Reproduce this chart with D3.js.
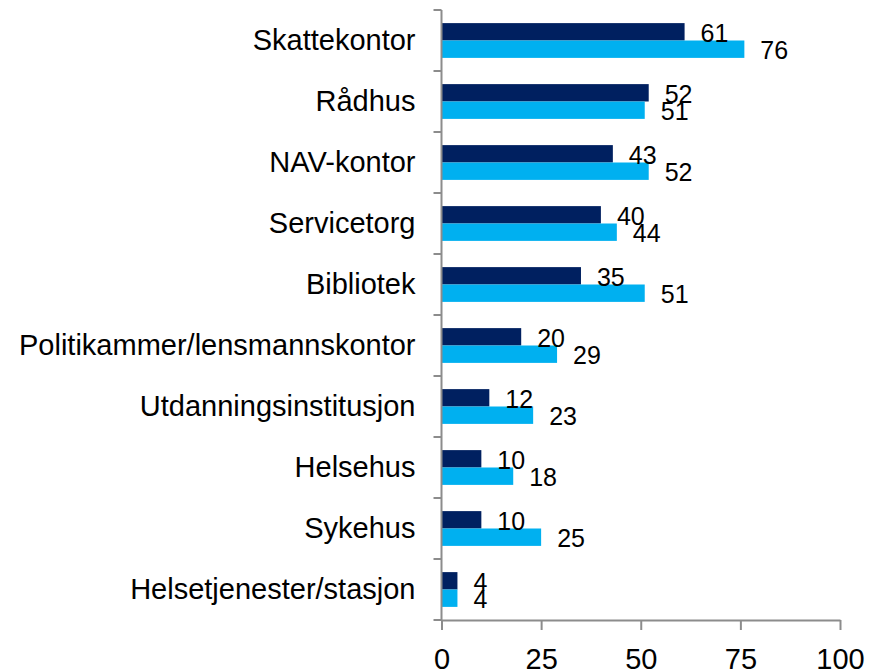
<!DOCTYPE html>
<html>
<head>
<meta charset="utf-8">
<script src="https://cdn.jsdelivr.net/npm/d3@7"></script>
<style>
  body { margin: 0; background: #fff; }
  text { font-family: "Liberation Sans", Arial, sans-serif; }
</style>
</head>
<body>
<div class="chart"></div>
<script>
// chart size
const svgWidth = 871;
const svgHeight = 672;

const margin = { top: 10, right: 31, bottom: 52, left: 441.5 };
const width = svgWidth - margin.left - margin.right;
const height = svgHeight - margin.top - margin.bottom;

// data
const categories = ["Skattekontor", "Rådhus", "NAV-kontor", "Servicetorg", "Bibliotek",
  "Politikammer/lensmannskontor", "Utdanningsinstitusjon", "Helsehus", "Sykehus",
  "Helsetjenester/stasjon"];
const series = ["serie1", "serie2"];
const serie1 = [61, 52, 43, 40, 35, 20, 12, 10, 10, 4];
const serie2 = [76, 51, 52, 44, 51, 29, 23, 18, 25, 4];
const xTicks = [0, 25, 50, 75, 100];

const colors = { serie1: "#002060", serie2: "#00B0F0" };
const axisColor = "#8c8c8c";

const svg = d3.select(".chart")
  .append("svg")
  .attr("width", svgWidth)
  .attr("height", svgHeight);

const chartGroup = svg.append("g")
  .attr("transform", `translate(${margin.left}, ${margin.top})`);

// scales
const xScale = d3.scaleLinear()
  .domain([0, 100])
  .range([0, width]);

const yScale = d3.scaleBand()
  .domain(categories)
  .range([0, height])
  .paddingInner(0.43)
  .paddingOuter(0.215);

const ySub = d3.scaleBand()
  .domain(series)
  .range([0, yScale.bandwidth()]);

// rows
const rows = categories.map((c, i) => ({ cat: c, serie1: serie1[i], serie2: serie2[i] }));

const groups = chartGroup.selectAll(".row")
  .data(rows)
  .enter()
  .append("g")
  .attr("class", "row")
  .attr("transform", d => `translate(0, ${yScale(d.cat)})`);

groups.selectAll("rect")
  .data(d => series.map(s => ({ key: s, value: d[s] })))
  .enter()
  .append("rect")
  .attr("x", 0)
  .attr("y", d => ySub(d.key))
  .attr("width", d => xScale(d.value))
  .attr("height", ySub.bandwidth())
  .attr("fill", d => colors[d.key]);

groups.selectAll(".val")
  .data(d => series.map(s => ({ key: s, value: d[s] })))
  .enter()
  .append("text")
  .attr("class", "val")
  .attr("x", d => xScale(d.value) + 16)
  .attr("y", d => ySub(d.key) + ySub.bandwidth() / 2 + 1)
  .attr("dominant-baseline", "central")
  .attr("font-size", 25)
  .attr("fill", "#000")
  .text(d => d.value);

// x axis
const xAxis = chartGroup.append("g")
  .attr("transform", `translate(0, ${height})`)
  .call(d3.axisBottom(xScale)
    .tickValues(xTicks)
    .tickSize(10)
    .tickSizeOuter(0)
    .tickPadding(18));

xAxis.select(".domain").attr("stroke", axisColor).attr("stroke-width", 2);
xAxis.selectAll(".tick line").attr("stroke", axisColor).attr("stroke-width", 2);
xAxis.selectAll(".tick text")
  .attr("font-size", 29)
  .attr("font-family", "Liberation Sans, Arial, sans-serif")
  .attr("fill", "#000");

// y axis: line with ticks between categories
chartGroup.append("line")
  .attr("x1", 0).attr("x2", 0)
  .attr("y1", 0).attr("y2", height)
  .attr("stroke", axisColor)
  .attr("stroke-width", 2);

const boundaries = d3.range(categories.length + 1).map(i => i * yScale.step());
chartGroup.selectAll(".ytick")
  .data(boundaries)
  .enter()
  .append("line")
  .attr("class", "ytick")
  .attr("x1", -8).attr("x2", 0)
  .attr("y1", d => d).attr("y2", d => d)
  .attr("stroke", axisColor)
  .attr("stroke-width", 2);

// category labels
chartGroup.selectAll(".cat")
  .data(categories)
  .enter()
  .append("text")
  .attr("class", "cat")
  .attr("x", -26)
  .attr("y", d => yScale(d) + yScale.bandwidth() / 2 - 1)
  .attr("text-anchor", "end")
  .attr("dominant-baseline", "central")
  .attr("font-size", 29)
  .attr("fill", "#000")
  .text(d => d);
</script>
</body>
</html>
